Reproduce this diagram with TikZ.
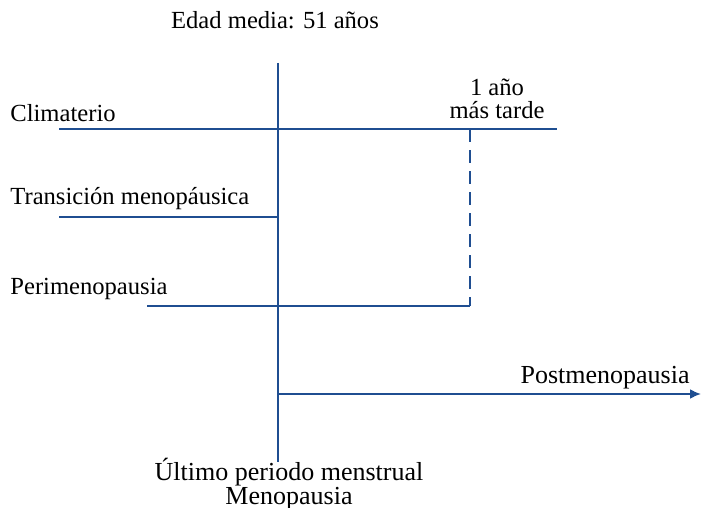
\documentclass[tikz,border=0pt]{standalone}
\usepackage{fontspec}
\setmainfont{Liberation Serif}
\usetikzlibrary{arrows.meta}
\definecolor{lineblue}{RGB}{31,78,145}
\begin{document}
\begin{tikzpicture}[x=0.5pt,y=-0.5pt]
\tikzstyle{axis}=[draw=lineblue,line width=1pt]
\tikzstyle{lbl}=[inner sep=0pt,font=\fontsize{12.3}{11.5}\selectfont]
\tikzstyle{widelbl}=[inner sep=0pt,font=\fontsize{13}{10.5}\selectfont]
\useasboundingbox (0,0) rectangle (701,508);
% frame of the time line
\path (278,63) coordinate(top) (278,462) coordinate(bot);
\path (59,129) coordinate(cl) (557,129) coordinate(cr) (470,129) coordinate(dt);
\path (59,217) coordinate(tl) (278,217) coordinate(tr);
\path (147,306) coordinate(pl) (470,306) coordinate(pr);
\path (278,394) coordinate(po) (701,394) coordinate(pe);
\draw[axis] (top) -- (bot);
\draw[axis] (cl) -- (cr);
\draw[axis] (tl) -- (tr);
\draw[axis] (pl) -- (pr);
\draw[axis,dash pattern=on 6.5pt off 4pt] (dt) -- (pr);
\draw[axis,-{Latex[length=5.5pt,width=5pt]}] (po) -- (pe);
% labels
\node[lbl] (edad) at (275,20) {Edad media: 51 años};
\node[lbl,anchor=west] (clim) at (10,113) {Climaterio};
\node[lbl,anchor=west] (trans) at (10,199) {Transición menopáusica};
\node[lbl,anchor=west] (peri) at (10,289) {Perimenopausia};
\node[lbl,align=center] (tarde) at (497,99) {1 año\\más tarde};
\node[widelbl,anchor=east] (postm) at (690,378) {Postmenopausia};
\node[widelbl,align=center] (ultimo) at (289,484) {Último periodo menstrual\\Menopausia};
\end{tikzpicture}
\end{document}
